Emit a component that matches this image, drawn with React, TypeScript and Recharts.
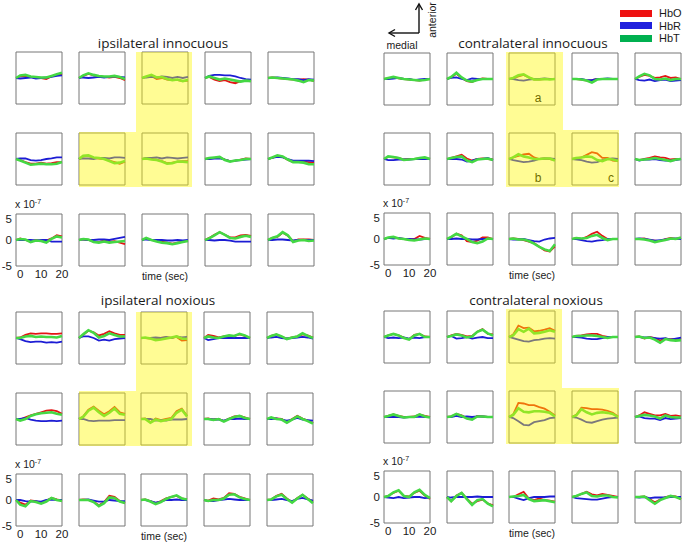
import React from 'react'
import { LineChart, Line, XAxis, YAxis, ReferenceArea } from 'recharts'

// sample times (sec) shared by every channel
const timePoints = [-2, 0, 2.5, 5, 7.5, 10, 12.5, 15, 17.5, 20]
const yTicks = [-5, 0, 5]
const xTicks = [0, 10, 20]
const seriesNames = ['HbO', 'HbR', 'HbT']

// 15 channels per condition (3 rows x 5 columns), values in units of 10^-7
const ipsiInnocuousHbO = [
  [0, 0.3, 0.4, 0.2, 0.1, 0.0, -0.2, 0.3, 0.5, 0.8],
  [0, 0.4, 0.8, 0.5, 0.3, 0.2, 0.1, 0.2, 0.0, -0.4],
  [0, 0.2, 0.4, -0.2, 0.0, -0.3, -0.4, -0.4, -0.6, -0.5],
  [0, 0.2, -0.3, -0.6, -0.4, -0.8, -1.0, -0.6, -0.5, -0.4],
  [0, 0.1, 0.0, -0.1, -0.2, -0.3, -0.3, -0.2, -0.3, -0.6],
  [0, -0.2, -0.6, -0.9, -0.9, -0.7, -0.9, -0.8, -0.6, -0.6],
  [0, 0.5, 0.6, 0.2, 0.1, 0.0, -0.3, -0.6, -0.9, -0.5],
  [0, 0.1, 0.0, -0.1, -0.4, -0.8, -0.7, -0.5, -0.4, -0.4],
  [0, 0.1, 0.2, 0.3, -0.1, -0.4, -0.3, -0.1, 0.1, 0.0],
  [0, 0.2, 0.6, 0.4, -0.2, -0.6, -0.4, -0.5, -0.6, -0.7],
  [0, 0.3, 0.0, -0.3, 0.0, -0.2, -0.1, 0.3, 0.9, 0.7],
  [0, 0.1, 0.0, -0.3, -0.4, -0.1, -0.3, -0.2, -0.5, -0.8],
  [0, 0.3, 0.0, -0.2, -0.3, -0.5, -0.7, -0.5, -0.3, -0.1],
  [0, 0.4, 1.0, 1.5, 1.0, 0.5, 0.5, 0.9, 1.0, 0.8],
  [0, 0.4, 0.6, 1.4, 0.8, -0.2, 0.1, 0.1, 0.1, 0.0],
]
const ipsiInnocuousHbR = [
  [0, -0.1, 0.0, 0.1, -0.1, 0.0, 0.1, 0.2, 0.4, 0.5],
  [0, 0.1, 0.0, 0.1, 0.2, 0.1, 0.2, 0.3, 0.2, 0.1],
  [0, 0.1, 0.2, 0.1, 0.3, 0.2, 0.0, 0.2, 0.0, 0.2],
  [0, 0.4, 0.6, 0.6, 0.5, 0.5, 0.3, 0.0, -0.2, -0.3],
  [0, 0.0, 0.1, 0.0, -0.1, -0.2, -0.2, -0.4, -0.2, -0.3],
  [0, 0.1, 0.1, -0.2, -0.3, -0.2, 0.0, 0.1, 0.3, 0.3],
  [0, 0.1, 0.1, 0.0, 0.2, 0.2, 0.1, 0.3, 0.3, 0.2],
  [0, 0.2, 0.2, 0.3, 0.1, 0.3, 0.2, 0.1, 0.2, 0.3],
  [0, 0.0, 0.1, 0.1, -0.1, -0.4, -0.3, -0.2, -0.1, 0.0],
  [0, 0.2, 0.4, 0.3, 0.0, -0.3, -0.3, -0.3, -0.3, -0.4],
  [0, 0.0, 0.0, 0.0, -0.1, 0.0, 0.0, -0.3, -0.3, -0.3],
  [0, 0.1, 0.0, 0.0, 0.1, 0.1, 0.0, 0.2, 0.4, 0.6],
  [0, 0.1, 0.0, 0.0, 0.0, -0.1, -0.1, 0.0, -0.1, 0.0],
  [0, 0.0, -0.1, 0.0, 0.0, -0.1, -0.3, -0.3, -0.3, -0.3],
  [0, 0.0, 0.1, 0.1, 0.0, -0.1, 0.0, 0.0, 0.0, 0.0],
]
const ipsiInnocuousHbT = [
  [0, 0.5, 0.6, 0.3, 0.2, 0.1, 0.1, 0.4, 0.7, 1.0],
  [0, 0.5, 0.9, 0.6, 0.4, 0.3, 0.3, 0.4, 0.2, -0.2],
  [0, 0.3, 0.6, 0.1, 0.2, -0.2, -0.4, -0.3, -0.6, -0.4],
  [0, 0.3, 0.0, -0.3, -0.1, -0.3, -0.5, -0.7, -0.5, -0.6],
  [0, 0.1, 0.0, -0.1, -0.2, -0.3, -0.5, -0.8, -0.4, -0.5],
  [0, -0.3, -0.7, -1.1, -1.0, -0.9, -1.0, -1.0, -0.9, -0.6],
  [0, 0.6, 0.7, 0.3, 0.2, 0.0, -0.4, -0.8, -0.7, -0.4],
  [0, 0.1, -0.1, -0.2, -0.5, -0.9, -0.8, -0.5, -0.5, -0.6],
  [0, 0.2, 0.3, 0.4, -0.2, -0.5, -0.3, -0.2, 0.0, 0.0],
  [0, 0.3, 0.7, 0.5, -0.1, -0.6, -0.6, -0.7, -1.0, -1.0],
  [0, 0.2, 0.1, -0.4, -0.1, -0.2, -0.5, 0.2, 0.7, 0.5],
  [0, 0.2, 0.1, -0.4, -0.5, -0.3, -0.5, -0.4, -0.3, -0.2],
  [0, 0.4, 0.0, -0.3, -0.5, -0.6, -0.8, -0.6, -0.4, -0.2],
  [0, 0.3, 0.9, 1.5, 1.0, 0.4, 0.3, 0.6, 0.8, 0.6],
  [0, 0.4, 0.7, 1.5, 0.9, -0.4, -0.1, 0.0, -0.2, -0.1],
]

const contraInnocuousHbO = [
  [0, 0.1, 0.3, 0.1, 0.0, -0.1, -0.2, -0.3, -0.1, 0.0],
  [0, 0.3, 1.0, 0.2, -0.4, -0.6, -0.1, 0.1, 0.0, 0.0],
  [0, 0.1, 0.5, 0.8, 0.3, -0.1, -0.1, 0.0, 0.0, 0.0],
  [0, 0.0, -0.1, -0.3, -0.2, 0.0, 0.0, 0.0, 0.0, 0.0],
  [0, 0.4, 0.8, 0.6, 0.2, 0.3, 0.6, 0.2, 0.3, 0.0],
  [0, 0.4, 0.3, 0.2, -0.1, 0.0, 0.0, 0.1, 0.2, 0.0],
  [0, 0.2, 0.5, 0.8, 0.1, -0.3, 0.0, 0.1, 0.0, -0.1],
  [0, 0.3, 0.6, 0.9, 1.0, 0.3, 0.0, 0.1, 0.0, -0.2],
  [0, 0.1, 0.3, 0.8, 1.3, 1.1, 0.2, 0.2, -0.3, -0.4],
  [0, -0.2, 0.0, 0.2, 0.5, 0.3, 0.2, -0.1, 0.0, 0.0],
  [0, 0.2, 0.3, 0.1, 0.0, -0.1, 0.0, 0.6, 0.2, 0.0],
  [0, 0.3, 1.0, 0.7, -0.4, -0.6, -0.3, 0.3, 0.3, 0.0],
  [0, 0.1, 0.0, -0.2, -0.5, -0.8, -1.5, -2.2, -2.4, -1.4],
  [0, 0.2, 0.0, 0.4, 1.0, 1.4, 0.6, 0.0, 0.0, 0.0],
  [0, 0.0, 0.1, -0.2, -0.3, -0.4, 0.0, 0.2, 0.0, 0.2],
]
const contraInnocuousHbR = [
  [0, 0.0, 0.1, 0.2, 0.0, 0.0, -0.2, -0.1, 0.0, 0.0],
  [0, 0.2, 0.3, 0.0, -0.2, 0.1, 0.0, 0.0, 0.0, 0.0],
  [0, 0.0, -0.2, -0.3, -0.1, 0.0, 0.0, 0.1, 0.0, 0.0],
  [0, 0.0, 0.0, -0.2, -0.2, 0.0, 0.0, 0.1, 0.0, 0.0],
  [0, -0.2, -0.3, -0.1, -0.4, -0.2, -0.1, -0.4, -0.3, -0.2],
  [0, -0.2, -0.2, -0.1, -0.1, -0.1, 0.0, 0.0, 0.0, 0.0],
  [0, 0.0, 0.0, -0.1, -0.5, -0.3, 0.0, 0.0, 0.2, -0.2],
  [0, -0.2, -0.4, -0.6, -0.5, -0.3, 0.0, 0.1, 0.1, 0.0],
  [0, -0.1, -0.2, -0.5, -0.7, -0.6, -0.2, 0.0, 0.1, 0.0],
  [0, -0.3, -0.1, -0.1, 0.0, -0.2, -0.3, -0.3, -0.2, 0.0],
  [0, 0.2, 0.1, 0.2, 0.0, 0.0, -0.1, -0.1, 0.0, 0.0],
  [0, 0.0, 0.1, 0.0, 0.0, -0.1, -0.1, 0.0, 0.0, 0.0],
  [0, -0.1, -0.1, 0.0, -0.2, -0.4, -0.5, -0.1, 0.1, 0.2],
  [0, 0.0, -0.2, -0.4, -0.5, -0.3, -0.2, 0.0, 0.0, 0.0],
  [0, 0.1, 0.0, -0.1, -0.3, -0.2, -0.1, 0.0, 0.1, 0.0],
]
const contraInnocuousHbT = [
  [0, 0.2, 0.4, 0.2, 0.0, -0.1, -0.2, -0.3, -0.2, 0.0],
  [0, 0.4, 1.2, 0.3, -0.3, -0.5, -0.2, 0.0, 0.0, 0.0],
  [0, 0.2, 0.7, 0.9, 0.3, -0.1, -0.1, 0.0, -0.1, 0.0],
  [0, 0.0, -0.1, -0.3, -0.7, -0.1, 0.0, 0.0, 0.0, 0.0],
  [0, 0.5, 1.0, 0.7, 0.0, -0.1, 0.1, -0.2, 0.0, 0.0],
  [0, 0.5, 0.4, 0.2, -0.2, -0.1, 0.0, 0.2, 0.3, 0.0],
  [0, 0.2, 0.4, 0.5, -0.3, -0.6, -0.1, 0.0, 0.1, -0.2],
  [0, 0.3, 0.9, 0.5, 0.3, 0.0, 0.0, 0.1, 0.1, -0.3],
  [0, 0.2, 0.3, 0.5, 0.4, -0.2, -0.4, 0.0, -0.1, -0.4],
  [0, -0.2, -0.1, 0.0, 0.2, 0.0, -0.2, -0.4, -0.1, 0.0],
  [0, 0.3, 0.4, 0.1, 0.0, -0.2, -0.3, -0.1, 0.1, 0.0],
  [0, 0.4, 1.0, 0.5, 0.0, -0.6, -0.8, -0.5, 0.1, 0.0],
  [0, 0.1, -0.1, -0.1, -0.4, -0.9, -1.5, -2.0, -2.3, -1.0],
  [0, 0.2, 0.1, 0.2, 0.6, 0.8, 0.2, -0.2, 0.0, 0.0],
  [0, 0.0, -0.1, -0.3, -0.6, -0.4, -0.2, 0.1, 0.0, 0.3],
]

const ipsiNoxiousHbO = [
  [0, 0.1, 0.6, 0.9, 0.8, 0.9, 0.9, 0.8, 0.8, 0.9],
  [0, 0.6, 1.4, 1.1, 0.5, 0.8, 1.3, 0.9, 0.6, 0.6],
  [0, 0.0, -0.1, -0.3, 0.0, 0.1, 0.0, 0.2, -0.5, -0.4],
  [0, 0.6, 0.4, 0.1, 0.3, 0.4, 0.4, 0.7, 0.4, 0.0],
  [0, 0.4, 0.7, 0.2, -0.1, 0.1, 0.3, 0.7, 0.5, 0.1],
  [0, -0.1, 0.3, 0.7, 1.0, 1.3, 1.6, 1.7, 1.5, 1.0],
  [0, 0.5, 1.8, 2.4, 1.6, 0.9, 1.5, 2.3, 1.3, 1.0],
  [0, 0.1, -0.6, 0.1, -0.2, 0.0, 0.2, 1.5, 2.0, 0.6],
  [0, 0.1, -0.1, 0.0, -0.4, 0.1, 0.5, 0.6, 0.3, 0.0],
  [0, 0.2, 0.1, 0.0, -0.6, 0.0, 0.6, 0.1, -0.3, -0.8],
  [0, -0.5, -0.9, -0.1, -0.2, -0.6, -0.1, 0.4, 0.1, -0.1],
  [0, 0.1, 0.0, -0.3, -1.0, -0.4, 0.8, 0.6, -0.2, -0.6],
  [0, 0.1, -0.2, -0.6, -0.2, 0.3, 0.6, 0.8, 0.3, 0.1],
  [0, -0.1, 0.3, 0.1, 0.4, 1.3, 1.2, 0.6, 0.3, 0.0],
  [0, 0.1, 0.8, 1.2, 0.3, -0.4, 0.4, 1.0, 0.3, -0.3],
]
const ipsiNoxiousHbR = [
  [0, -0.2, -0.6, -0.8, -0.7, -0.7, -0.9, -0.8, -0.9, -0.7],
  [0, 0.3, 0.3, 0.0, -0.5, -0.3, -0.5, -0.2, -0.1, 0.0],
  [0, 0.0, 0.0, 0.1, 0.0, 0.2, 0.0, 0.3, 0.1, 0.2],
  [0, -0.4, -0.2, 0.0, 0.0, 0.0, 0.0, 0.0, 0.0, 0.0],
  [0, 0.1, 0.2, 0.0, -0.1, 0.0, 0.1, 0.2, 0.1, -0.1],
  [0, 0.0, 0.2, -0.1, -0.3, -0.4, -0.4, -0.3, -0.4, -0.3],
  [0, 0.0, -0.3, -0.4, -0.3, -0.3, -0.3, -0.2, -0.2, -0.2],
  [0, 0.0, 0.0, -0.3, -0.2, -0.3, -0.1, -0.1, -0.1, 0.0],
  [0, 0.0, -0.1, -0.1, -0.3, 0.0, 0.0, 0.1, 0.0, 0.0],
  [0, 0.0, 0.1, -0.1, -0.3, -0.1, 0.2, -0.1, -0.2, -0.3],
  [0, 0.0, -0.2, -0.3, -0.2, -0.3, 0.0, 0.1, 0.0, 0.0],
  [0, 0.0, 0.1, -0.1, -0.3, -0.3, 0.0, -0.1, -0.2, -0.2],
  [0, 0.0, -0.2, -0.5, -0.3, 0.0, 0.0, 0.1, 0.0, 0.0],
  [0, -0.2, -0.2, 0.0, 0.1, 0.2, 0.1, 0.0, 0.0, 0.0],
  [0, 0.0, 0.1, 0.2, 0.0, -0.2, 0.2, 0.4, 0.1, -0.1],
]
const ipsiNoxiousHbT = [
  [0, 0.0, 0.3, 0.4, 0.2, 0.3, 0.2, 0.2, 0.1, 0.4],
  [0, 0.7, 1.5, 1.0, 0.1, 0.4, 0.9, 0.6, 0.3, 0.3],
  [0, 0.1, -0.1, -0.4, -0.3, -0.1, 0.1, 0.3, -0.1, -0.2],
  [0, 0.3, 0.1, 0.0, 0.3, 0.5, 0.4, 0.8, 0.5, 0.0],
  [0, 0.4, 0.7, 0.3, -0.2, 0.1, 0.3, 0.9, 0.4, 0.0],
  [0, -0.3, 0.0, 0.6, 0.9, 1.1, 1.2, 1.3, 1.0, 0.8],
  [0, 0.4, 1.6, 2.2, 1.3, 0.6, 1.2, 2.0, 1.0, 0.8],
  [0, 0.0, -0.7, -0.1, -0.4, -0.2, 0.0, 1.2, 1.8, 0.5],
  [0, 0.0, -0.2, 0.0, -0.5, 0.0, 0.4, 0.6, 0.2, 0.0],
  [0, 0.3, 0.0, -0.1, -0.7, -0.1, 0.5, 0.0, -0.4, -0.9],
  [0, -0.9, -1.2, -0.2, -0.4, -0.7, -0.3, 0.4, 0.0, -0.2],
  [0, 0.0, 0.0, -0.4, -1.2, -0.6, 0.5, 0.4, -0.3, -0.6],
  [0, 0.1, -0.3, -0.8, -0.4, 0.2, 0.6, 0.9, 0.3, 0.1],
  [0, -0.2, 0.0, 0.0, 0.3, 1.0, 1.1, 0.5, 0.2, 0.0],
  [0, 0.1, 0.7, 1.0, 0.2, -0.5, 0.3, 1.0, 0.2, -0.6],
]

const contraNoxiousHbO = [
  [0, 0.3, 0.6, 0.3, -0.1, -0.4, 0.4, 0.6, 0.1, 0.0],
  [0, 0.3, 0.6, 0.4, 0.1, 0.2, 1.0, 1.5, 0.6, 0.5],
  [0, 0.5, 2.2, 1.7, 1.8, 1.1, 1.2, 1.4, 1.7, 1.2],
  [0, 0.2, 0.3, 0.5, 0.6, 0.6, 0.2, 0.0, 0.0, 0.0],
  [0, 0.1, -0.3, 0.0, -0.2, -0.7, -0.3, -0.4, -0.4, -0.4],
  [0, 0.2, 0.5, 0.2, 0.0, 0.0, 0.1, 0.5, 0.2, 0.0],
  [0, 0.1, 0.6, 0.3, -0.2, -0.4, 0.2, 0.1, 0.0, 0.0],
  [0, 0.5, 2.7, 2.6, 2.3, 2.3, 1.9, 1.6, 1.0, 0.3],
  [0, 0.4, 1.8, 1.7, 1.5, 1.5, 1.4, 1.2, 0.8, 0.1],
  [0, 0.3, 0.9, 0.6, 0.3, 0.3, 0.6, 0.2, 0.3, 0.1],
  [0, 0.2, 0.8, 1.2, 0.2, 0.1, 0.8, 1.2, 0.3, -0.4],
  [0, -0.8, 0.3, 0.8, -0.3, -1.3, -0.8, -0.5, -1.2, -1.6],
  [0, 0.0, 0.5, 1.0, -0.3, -0.6, -0.3, -0.6, -0.7, -0.9],
  [0, 0.1, 0.6, 1.0, 0.5, 0.3, 0.6, 0.4, 0.2, 0.0],
  [0, 0.0, 0.1, -0.4, -1.0, -0.5, 0.0, 0.2, 0.1, -0.4],
]
const contraNoxiousHbR = [
  [0, -0.2, -0.1, -0.2, -0.1, -0.3, -0.1, -0.2, 0.0, 0.0],
  [0, 0.2, -0.3, -0.2, 0.0, -0.3, -0.1, 0.0, -0.2, -0.2],
  [0, -0.2, -0.5, -0.8, -0.9, -0.6, -0.5, -0.3, -0.2, -0.3],
  [0, 0.0, -0.1, -0.3, -0.4, -0.4, -0.2, 0.0, 0.0, 0.0],
  [0, 0.0, -0.1, -0.1, -0.2, -0.3, -0.2, -0.5, -0.3, -0.1],
  [0, 0.0, 0.0, 0.0, -0.1, 0.0, 0.0, 0.1, 0.0, 0.0],
  [0, 0.0, 0.2, 0.0, 0.1, 0.0, 0.1, 0.1, 0.0, 0.0],
  [0, -0.2, -0.8, -1.5, -1.6, -1.0, -0.8, -0.6, -0.2, -0.1],
  [0, -0.1, -0.5, -1.0, -1.1, -0.8, -0.5, -0.3, -0.2, -0.1],
  [0, 0.1, -0.2, -0.3, -0.3, -0.6, -0.2, -0.4, -0.3, -0.2],
  [0, -0.1, -0.2, 0.0, -0.2, -0.1, 0.0, 0.0, -0.2, -0.1],
  [0, -0.1, 0.0, 0.0, 0.0, 0.0, 0.1, 0.0, 0.0, 0.0],
  [0, 0.0, -0.3, -0.6, -0.2, 0.0, 0.0, 0.0, 0.1, 0.1],
  [0, -0.2, -0.3, -0.4, -0.5, -0.5, -0.3, -0.1, 0.0, 0.0],
  [0, -0.1, 0.0, -0.2, -0.1, -0.1, -0.1, 0.0, 0.0, 0.0],
]
const contraNoxiousHbT = [
  [0, 0.3, 0.6, 0.3, -0.2, -0.5, 0.3, 0.6, 0.0, 0.0],
  [0, 0.2, 0.5, 0.3, -0.1, 0.1, 1.0, 1.4, 0.7, 0.3],
  [0, 0.3, 1.5, 1.0, 1.6, 0.7, 0.8, 1.0, 1.3, 1.0],
  [0, 0.2, 0.2, 0.3, 0.3, 0.2, 0.0, -0.2, 0.0, 0.0],
  [0, 0.1, -0.2, -0.1, -0.5, -1.1, -0.4, -0.6, -0.7, -0.6],
  [0, 0.2, 0.5, 0.2, -0.1, 0.0, 0.0, 0.5, 0.1, -0.1],
  [0, 0.1, 0.6, 0.2, -0.3, -0.5, 0.1, 0.1, 0.0, 0.0],
  [0, 0.4, 1.7, 1.0, 0.9, 1.1, 1.1, 1.0, 0.8, 0.1],
  [0, 0.3, 1.5, 0.9, 0.5, 0.8, 0.9, 0.8, 0.6, 0.0],
  [0, 0.2, 0.4, 0.3, 0.1, -0.3, 0.3, 0.0, -0.1, -0.1],
  [0, 0.2, 0.9, 1.3, 0.2, 0.0, 0.9, 1.4, 0.4, -0.2],
  [0, -0.8, 0.2, 0.8, -0.4, -1.5, -0.6, -0.4, -1.3, -1.8],
  [0, 0.1, 0.2, 0.4, -0.4, -0.8, -0.7, -0.6, -0.8, -1.0],
  [0, 0.2, 0.6, 0.9, 0.2, 0.1, 0.3, 0.3, 0.0, -0.1],
  [0, 0.0, 0.1, -0.6, -1.3, -0.6, -0.2, 0.2, 0.0, -0.4],
]

const LINE_COLORS = ['#e41414', '#1c1cd4', '#44d844']
const LINE_WIDTHS = [1.8, 1.8, 2.6]
const LEGEND_COLORS = ['#ee1111', '#2020dd', '#00b050']
const BOX_W = 46
const BOX_H = 52
const FONT = '"Liberation Sans", Arial, sans-serif'

const panels = [
  {
    title: 'ipsilateral innocuous', hbo: ipsiInnocuousHbO, hbr: ipsiInnocuousHbR, hbt: ipsiInnocuousHbT,
    cols: [16, 79, 142, 205, 268], rows: [52, 133, 214], titleX: 163, titleY: 43,
    highlight: [[136, 52, 56, 135], [79, 132, 57, 55]],
  },
  {
    title: 'contralateral innocuous', hbo: contraInnocuousHbO, hbr: contraInnocuousHbR, hbt: contraInnocuousHbT,
    cols: [384, 447, 509, 572, 635], rows: [53, 133, 213], titleX: 533, titleY: 43,
    highlight: [[506, 52, 57, 135], [563, 130, 56, 57]],
  },
  {
    title: 'ipsilateral noxious', hbo: ipsiNoxiousHbO, hbr: ipsiNoxiousHbR, hbt: ipsiNoxiousHbT,
    cols: [16, 79, 141, 204, 267], rows: [312, 393, 474], titleX: 158, titleY: 300,
    highlight: [[136, 312, 56, 134], [79, 391, 57, 55]],
  },
  {
    title: 'contralateral noxious', hbo: contraNoxiousHbO, hbr: contraNoxiousHbR, hbt: contraNoxiousHbT,
    cols: [384, 447, 509, 572, 635], rows: [311, 391, 471], titleX: 536, titleY: 300,
    highlight: [[506, 309, 56, 135], [562, 388, 57, 56]],
  },
]

const letters = [
  { text: 'a', x: 538, y: 98 },
  { text: 'b', x: 538, y: 178 },
  { text: 'c', x: 611, y: 178 },
]

function Channel({ x, y, hbo, hbr, hbt, axes }: any) {
  const data = timePoints.map((t, i) => ({ t, HbO: hbo[i], HbR: hbr[i], HbT: hbt[i] }))
  const ml = axes ? 18 : 1
  const mb = axes ? 17 : 1
  return (
    <div style={{ position: 'absolute', left: x - ml, top: y - 1 }}>
      <LineChart
        width={BOX_W + ml + (axes ? 8 : 1)}
        height={BOX_H + 1 + mb}
        data={data}
        margin={{ top: 1, right: axes ? 8 : 1, left: axes ? 0 : 1, bottom: axes ? 0 : 1 }}
      >
        <XAxis
          dataKey="t"
          type="number"
          domain={[-2, 20]}
          ticks={xTicks}
          hide={!axes}
          height={17}
          axisLine={false}
          tickLine={false}
          tickSize={2}
          tickMargin={2}
          tick={{ fontSize: 11.5, fill: '#1a1a1a', fontFamily: FONT }}
        />
        <YAxis
          type="number"
          domain={[-5, 5]}
          ticks={yTicks}
          hide={!axes}
          width={18}
          axisLine={false}
          tickLine={false}
          tickSize={2}
          tickMargin={2}
          tick={{ fontSize: 11.5, fill: '#1a1a1a', fontFamily: FONT }}
        />
        <ReferenceArea x1={-2} x2={20} y1={-5} y2={5} fill="#ffffff" fillOpacity={0} stroke="#767676" strokeWidth={1} />
        {seriesNames.map((name, i) => (
          <Line
            key={name}
            dataKey={name}
            type="linear"
            stroke={LINE_COLORS[i]}
            strokeWidth={LINE_WIDTHS[i]}
            dot={false}
            isAnimationActive={false}
          />
        ))}
      </LineChart>
    </div>
  )
}

const textStyle: React.CSSProperties = { position: 'absolute', fontFamily: FONT, color: '#1a1a1a', whiteSpace: 'nowrap' }

export default function App() {
  return (
    <div style={{ position: 'absolute', left: 0, top: 0, width: 685, height: 545, background: '#fff', overflow: 'hidden' }}>
      {panels.map((p) => (
        <React.Fragment key={p.title}>
          <div style={{ ...textStyle, left: p.titleX, top: p.titleY, transform: 'translate(-50%, -50%)', fontFamily: '"Open Sans", sans-serif', fontSize: 13.5 }}>
            {p.title}
          </div>
          {p.rows.map((ry, r) =>
            p.cols.map((cx, c) => {
              const k = r * 5 + c
              return (
                <Channel key={k} x={cx} y={ry} hbo={p.hbo[k]} hbr={p.hbr[k]} hbt={p.hbt[k]} axes={r === 2 && c === 0} />
              )
            })
          )}
          <div style={{ ...textStyle, left: p.cols[0] - 1, top: p.rows[2] - 16, fontSize: 10.5 }}>
            x 10<sup style={{ fontSize: 7, verticalAlign: 4 }}>-7</sup>
          </div>
          <div style={{ ...textStyle, left: p.cols[2] + BOX_W / 2, top: p.rows[2] + BOX_H + 10, transform: 'translate(-50%, -50%)', fontSize: 10.5 }}>
            time (sec)
          </div>
        </React.Fragment>
      ))}

      {letters.map((l) => (
        <div key={l.text} style={{ ...textStyle, left: l.x, top: l.y, transform: 'translate(-50%, -50%)', fontSize: 12, color: '#000' }}>
          {l.text}
        </div>
      ))}

      <svg width={685} height={545} style={{ position: 'absolute', left: 0, top: 0, pointerEvents: 'none' }}>
        {panels.map((p) =>
          p.highlight.map(([hx, hy, hw, hh], i) => (
            <rect key={p.title + i} x={hx} y={hy} width={hw} height={hh} fill="#fff800" fillOpacity={0.42} />
          ))
        )}
        <g stroke="#111" strokeWidth={1.4} fill="none">
          <line x1={419} y1={33} x2={389} y2={33} />
          <polyline points="395,29.5 389,33 395,36.5" />
          <line x1={419} y1={33} x2={419} y2={4} />
          <polyline points="415.5,10 419,4 422.5,10" />
        </g>
      </svg>
      <div style={{ ...textStyle, left: 402, top: 45, transform: 'translate(-50%, -50%)', fontSize: 10.5 }}>medial</div>
      <div style={{ ...textStyle, left: 432, top: 20, transform: 'translate(-50%, -50%) rotate(-90deg)', fontSize: 10.5 }}>anterior</div>

      {seriesNames.map((name, i) => (
        <React.Fragment key={name}>
          <div style={{ position: 'absolute', left: 620, top: 9.5 + i * 12.7, width: 32, height: 7, background: LEGEND_COLORS[i] }} />
          <div style={{ ...textStyle, left: 659, top: 13 + i * 12.7, transform: 'translateY(-50%)', fontSize: 11 }}>{name}</div>
        </React.Fragment>
      ))}
    </div>
  )
}
